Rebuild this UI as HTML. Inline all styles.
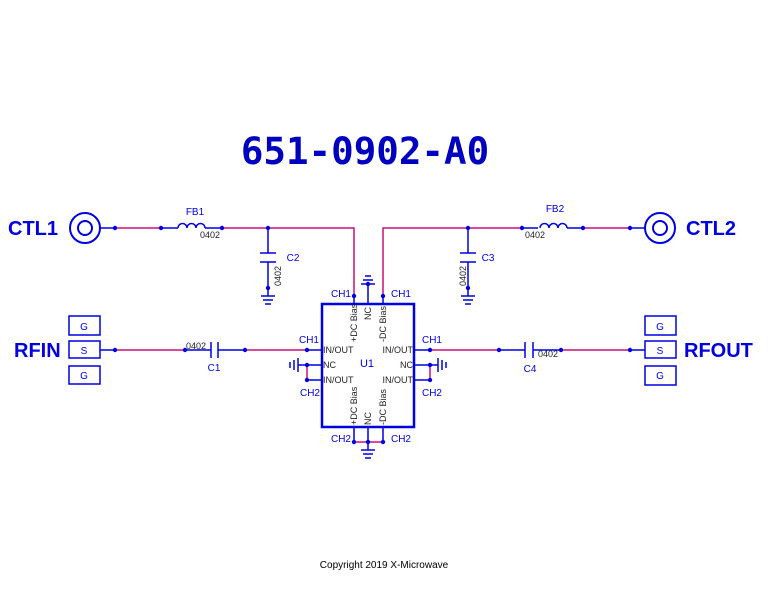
<!DOCTYPE html>
<html><head><style>body{margin:0;background:#fff}svg{display:block}</style></head><body>
<svg width="768" height="593" viewBox="0 0 768 593" xmlns="http://www.w3.org/2000/svg" font-family="Liberation Sans, sans-serif">
<g fill="none" stroke-width="1.5">
<!-- pink wires -->
<g stroke="#c8107a">
<path d="M115 228H161M222 228H354V296"/>
<path d="M383 296V228H522M583 228H630"/>
<path d="M115 350H185M245 350H307"/>
<path d="M430 350H499M561 350H630"/>
<path d="M307 365V380M430 365V380M353 442H384"/>
</g>
<g stroke="#0000e0">
<!-- CTL1 -->
<circle cx="85" cy="228" r="15" stroke-width="2"/><circle cx="85" cy="228" r="7" stroke-width="2"/>
<path d="M100 228H115M161 228H178M205 228H222"/>
<path d="M178 228a4.5 4.5 0 0 1 9 0a4.5 4.5 0 0 1 9 0a4.5 4.5 0 0 1 9 0"/>
<!-- C2 -->
<path d="M268 228V253M260 253H276M260 262H276M268 262V296M261 296H275M263 300H273M265 304H271"/>
<!-- CTL2 -->
<circle cx="660" cy="228" r="15" stroke-width="2"/><circle cx="660" cy="228" r="7" stroke-width="2"/>
<path d="M630 228H645M522 228H538M567 228H583"/>
<path d="M540 228a4.5 4.5 0 0 1 9 0a4.5 4.5 0 0 1 9 0a4.5 4.5 0 0 1 9 0"/>
<!-- C3 -->
<path d="M468 228V253M460 253H476M460 262H476M468 262V296M461 296H475M463 300H473M465 304H471"/>
<!-- RFIN -->
<rect x="69" y="316" width="31" height="19"/><rect x="69" y="341" width="31" height="17"/><rect x="69" y="366" width="31" height="18"/>
<path d="M100 350H115M185 350H211M211 342V358M218 342V358M218 350H245"/>
<!-- RFOUT -->
<rect x="645" y="316" width="31" height="19"/><rect x="645" y="341" width="31" height="17"/><rect x="645" y="366" width="31" height="19"/>
<path d="M630 350H645M499 350H525M525 342V358M533 342V358M533 350H561"/>
<!-- IC -->
<rect x="322" y="304" width="92" height="123" stroke-width="2.5"/>
<path d="M354 296V304M368 304V284M383 296V304"/>
<path d="M361 284H375M363 280H373M365 276H371"/>
<path d="M307 350H322M322 365H298M307 380H322"/>
<path d="M298 358V372M294 360V370M290 362V368"/>
<path d="M414 350H430M414 365H438M414 380H430"/>
<path d="M438 358V372M442 360V370M446 362V368"/>
<path d="M354 427V442M368 427V450M383 427V442"/>
<path d="M361 450H375M363 454H373M365 458H371"/>
</g>
</g>
<g fill="#0000e0">
<circle cx="115" cy="228" r="2.2"/><circle cx="161" cy="228" r="2.2"/><circle cx="222" cy="228" r="2.2"/><circle cx="268" cy="228" r="2.2"/><circle cx="268" cy="288" r="2.2"/>
<circle cx="522" cy="228" r="2.2"/><circle cx="583" cy="228" r="2.2"/><circle cx="630" cy="228" r="2.2"/><circle cx="468" cy="228" r="2.2"/><circle cx="468" cy="288" r="2.2"/>
<circle cx="115" cy="350" r="2.2"/><circle cx="185" cy="350" r="2.2"/><circle cx="245" cy="350" r="2.2"/>
<circle cx="499" cy="350" r="2.2"/><circle cx="561" cy="350" r="2.2"/><circle cx="630" cy="350" r="2.2"/>
<circle cx="354" cy="296" r="2.2"/><circle cx="368" cy="284" r="2.2"/><circle cx="383" cy="296" r="2.2"/>
<circle cx="307" cy="350" r="2.2"/><circle cx="307" cy="365" r="2.2"/><circle cx="307" cy="380" r="2.2"/>
<circle cx="430" cy="350" r="2.2"/><circle cx="430" cy="365" r="2.2"/><circle cx="430" cy="380" r="2.2"/>
<circle cx="354" cy="442" r="2.2"/><circle cx="368" cy="442" r="2.2"/><circle cx="383" cy="442" r="2.2"/>
</g>
<text x="365" y="164" text-anchor="middle" font-family="DejaVu Sans Mono, monospace" font-weight="bold" font-size="37.5" fill="#0000c0">651-0902-A0</text>
<g fill="#0000e0" font-weight="bold" font-size="20">
<text x="8" y="235">CTL1</text><text x="686" y="235">CTL2</text>
<text x="14" y="357">RFIN</text><text x="684" y="357">RFOUT</text>
</g>
<g fill="#0000e0" font-size="10" text-anchor="middle">
<text x="84" y="330">G</text><text x="84" y="354">S</text><text x="84" y="379">G</text>
<text x="660" y="330">G</text><text x="660" y="354">S</text><text x="660" y="379">G</text>
<text x="195" y="215">FB1</text><text x="555" y="212">FB2</text>
<text x="293" y="261">C2</text><text x="488" y="261">C3</text>
<text x="214" y="371">C1</text><text x="530" y="372">C4</text>
<text x="341" y="297">CH1</text><text x="401" y="297">CH1</text>
<text x="309" y="343">CH1</text><text x="310" y="396">CH2</text>
<text x="432" y="343">CH1</text><text x="432" y="396">CH2</text>
<text x="341" y="442">CH2</text><text x="401" y="442">CH2</text>
<text x="367" y="367" font-size="11">U1</text>
</g>
<g fill="#222" font-size="9">
<text x="200" y="238">0402</text><text x="525" y="238">0402</text>
<text x="186" y="349">0402</text><text x="538" y="357">0402</text>
<text transform="translate(281,286) rotate(-90)">0402</text>
<text transform="translate(466,286) rotate(-90)">0402</text>
</g>
<g fill="#222" font-size="9">
<text x="323" y="353">IN/OUT</text><text x="323" y="368">NC</text><text x="323" y="383">IN/OUT</text>
<text x="413" y="353" text-anchor="end">IN/OUT</text><text x="413" y="368" text-anchor="end">NC</text><text x="413" y="383" text-anchor="end">IN/OUT</text>
<text transform="translate(357,342) rotate(-90)">+DC Bias</text>
<text transform="translate(371,320) rotate(-90)">NC</text>
<text transform="translate(386,342) rotate(-90)">-DC Bias</text>
<text transform="translate(357,425) rotate(-90)">+DC Bias</text>
<text transform="translate(371,425) rotate(-90)">NC</text>
<text transform="translate(386,425) rotate(-90)">-DC Bias</text>
</g>
<text x="384" y="568" text-anchor="middle" font-size="10" fill="#000">Copyright 2019 X-Microwave</text>
</svg>
</body></html>
